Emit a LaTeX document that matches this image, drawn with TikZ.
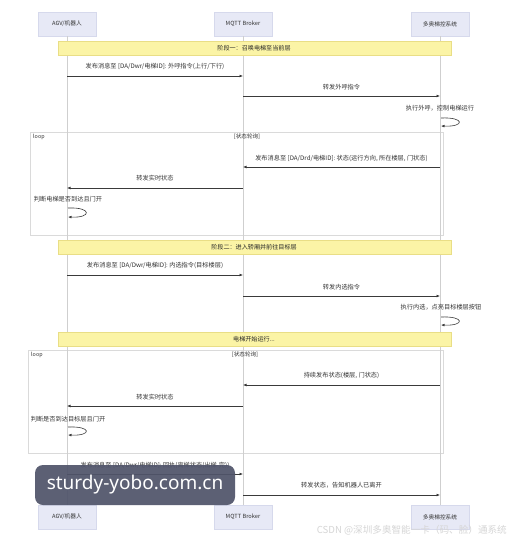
\documentclass[tikz,border=0pt]{standalone}
\usepackage{fontspec}
\setmainfont{Noto Sans CJK SC}
\newfontfamily\wmfont{Noto Sans}
\usetikzlibrary{arrows.meta}
\definecolor{partfill}{HTML}{E7E9F6}
\definecolor{partline}{HTML}{D6D9EC}
\definecolor{barfill}{HTML}{FBF4A6}
\definecolor{barline}{HTML}{E9DE86}
\definecolor{lifegray}{HTML}{CFCFCF}
\definecolor{framegray}{HTML}{DADADA}
\definecolor{msgcol}{HTML}{3A3A3A}
\definecolor{txtcol}{HTML}{333333}
\definecolor{wmfill}{HTML}{50546A}
\tikzset{
  part/.style={draw=partline, fill=partfill, minimum width=58pt, minimum height=24pt, inner sep=0pt, font=\fontsize{5.7}{6}\selectfont, text=txtcol},
  lifeline/.style={draw=lifegray, line width=0.5pt},
  phasebar/.style={draw=barline, fill=barfill, line width=0.4pt},
  loopframe/.style={draw=framegray, fill=white, fill opacity=0.6, line width=0.6pt},
  msg/.style={draw=msgcol, line width=0.6pt, -{Latex[length=3.5pt,width=2.8pt]}},
  lbl/.style={font=\fontsize{6.2}{7}\selectfont, text=txtcol, inner sep=0pt},
  barlbl/.style={font=\fontsize{6.1}{7}\selectfont, text=black!85, inner sep=0pt},
}
\begin{document}
\begin{tikzpicture}[x=1pt,y=-1pt]
\fill[white] (0,0) rectangle (508,540);
\useasboundingbox (0,0) rectangle (508,540);

% participants
\node[part] (a1) at (67,24) {AGV/机器人};
\node[part] (b1) at (243,24) {MQTT Broker};
\node[part] (c1) at (440,24) {多奥梯控系统};
\node[part] (a2) at (67,517) {AGV/机器人};
\node[part] (b2) at (243,517) {MQTT Broker};
\node[part] (c2) at (440,517) {多奥梯控系统};

% loop frames (behind lifelines)
\draw[loopframe] (30,132) rectangle (443,235);
\draw[loopframe] (28,350) rectangle (443,453);

% lifelines
\draw[lifeline] (a1.south) -- (a2.north);
\draw[lifeline] (b1.south) -- (b2.north);
\draw[lifeline] (c1.south) -- (c2.north);

% phase bars
\draw[phasebar] (58,41) rectangle (451,55);
\node[barlbl] (p1) at (254,48) {阶段一：召唤电梯至当前层};
\draw[phasebar] (58,240) rectangle (451,254);
\node[barlbl] (p2) at (254,247) {阶段二：进入轿厢并前往目标层};
\draw[phasebar] (58,332) rectangle (451,346);
\node[barlbl] (p3) at (254,339) {电梯开始运行...};

% loop labels
\node[lbl, anchor=west, font=\fontsize{5.4}{6}\selectfont] (l1) at (33,136.5) {loop};
\node[lbl, font=\fontsize{5.6}{6}\selectfont] (l1c) at (247,136.5) {[状态轮询]};
\node[lbl, anchor=west, font=\fontsize{5.4}{6}\selectfont] (l2) at (31,354.5) {loop};
\node[lbl, font=\fontsize{5.6}{6}\selectfont] (l2c) at (245,354.5) {[状态轮询]};

% coordinates on lifelines
\coordinate (m1a) at (67,76);   \coordinate (m1b) at (243,76);
\coordinate (m2a) at (243,96);  \coordinate (m2b) at (440,96);
\coordinate (s1a) at (441,118); \coordinate (s1b) at (441,126);
\coordinate (m3a) at (440,167); \coordinate (m3b) at (243,167);
\coordinate (m4a) at (243,188); \coordinate (m4b) at (67,188);
\coordinate (s2a) at (68,208);  \coordinate (s2b) at (68,217);
\coordinate (m5a) at (67,275);  \coordinate (m5b) at (243,275);
\coordinate (m6a) at (243,296); \coordinate (m6b) at (440,296);
\coordinate (s3a) at (441,317); \coordinate (s3b) at (441,325);
\coordinate (m7a) at (440,385); \coordinate (m7b) at (243,385);
\coordinate (m8a) at (243,406); \coordinate (m8b) at (67,406);
\coordinate (s4a) at (68,427);  \coordinate (s4b) at (68,435);
\coordinate (m9a) at (67,474);  \coordinate (m9b) at (243,474);
\coordinate (m10a) at (243,495); \coordinate (m10b) at (440,495);

% messages
\draw[msg] (m1a) -- (m1b);
\node[lbl] (t1) at (155,66.5) {发布消息至 [DA/Dwr/电梯ID]: 外呼指令(上行/下行)};
\draw[msg] (m2a) -- (m2b);
\node[lbl] (t2) at (341.5,87) {转发外呼指令};
\node[lbl] (t3) at (440,108) {执行外呼，控制电梯运行};
\draw[msg] (s1a) .. controls +(24,-1) and +(24,1) .. (s1b);

\draw[msg] (m3a) -- (m3b);
\node[lbl] (t4) at (341.5,158) {发布消息至 [DA/Drd/电梯ID]: 状态(运行方向, 所在楼层, 门状态)};
\draw[msg] (m4a) -- (m4b);
\node[lbl] (t5) at (155,178.5) {转发实时状态};
\node[lbl] (t6) at (68,199) {判断电梯是否到达且门开};
\draw[msg] (s2a) .. controls +(24,-1) and +(24,1) .. (s2b);

\draw[msg] (m5a) -- (m5b);
\node[lbl] (t7) at (155,265) {发布消息至 [DA/Dwr/电梯ID]: 内选指令(目标楼层)};
\draw[msg] (m6a) -- (m6b);
\node[lbl] (t8) at (341.5,287) {转发内选指令};
\node[lbl] (t9) at (441,307) {执行内选，点亮目标楼层按钮};
\draw[msg] (s3a) .. controls +(24,-1) and +(24,1) .. (s3b);

\draw[msg] (m7a) -- (m7b);
\node[lbl] (t10) at (341.5,375.5) {持续发布状态(楼层, 门状态)};
\draw[msg] (m8a) -- (m8b);
\node[lbl] (t11) at (155,397) {转发实时状态};
\node[lbl] (t12) at (68,419) {判断是否到达目标层且门开};
\draw[msg] (s4a) .. controls +(24,-1) and +(24,1) .. (s4b);

\draw[msg] (m9a) -- (m9b);
\node[lbl] (t13) at (155,465) {发布消息至 [DA/Dwr/电梯ID]: 回执(离梯状态(出梯-完))};
\draw[msg] (m10a) -- (m10b);
\node[lbl] (t14) at (341.5,485.5) {转发状态，告知机器人已离开};

% watermark
\node[fill=wmfill, fill opacity=0.93, text opacity=1, rounded corners=8pt, minimum width=200pt, minimum height=40pt, inner sep=0pt, text=white, font=\wmfont\fontsize{19}{22}\selectfont] (wm) at (135,485) {sturdy-yobo.com.cn};
\node[text=black!16, font=\fontsize{9.6}{10}\selectfont, anchor=east, inner sep=0pt] (csdn) at (507,530.5) {CSDN @深圳多奥智能一卡（码、脸）通系统};
\end{tikzpicture}
\end{document}
